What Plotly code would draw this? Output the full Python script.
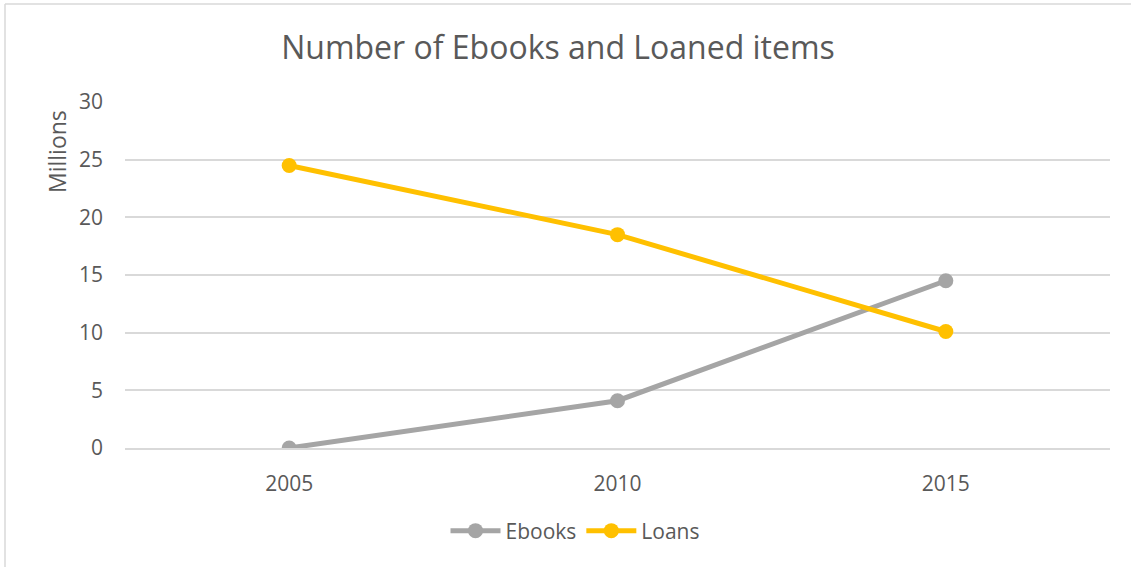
import plotly.graph_objects as go

years = ["2005", "2010", "2015"]
ebooks = [0, 4.1, 14.5]
loans = [24.5, 18.5, 10.1]
yticks = [0, 5, 10, 15, 20, 25, 30]

W, H = 1131, 567
L, R, T, B = 125, 21, 102, 119
pw, ph = W - L - R, H - T - B

def px(x):
    return (x - L) / pw

def py(y):
    return (H - B - y) / ph

fig = go.Figure()
fig.add_trace(go.Scatter(x=years, y=ebooks, name="Ebooks", mode="lines+markers",
                         line=dict(color="#A5A5A5", width=5),
                         marker=dict(color="#A5A5A5", size=15)))
fig.add_trace(go.Scatter(x=years, y=loans, name="Loans", mode="lines+markers",
                         line=dict(color="#FFC000", width=5),
                         marker=dict(color="#FFC000", size=15)))

font_family = "Open Sans, sans-serif"
fig.update_layout(
    width=W, height=H,
    margin=dict(l=L, r=R, t=T, b=B),
    paper_bgcolor="white", plot_bgcolor="white",
    font=dict(family=font_family, color="#595959", size=21),
    title=dict(text="Number of Ebooks and Loaned items", x=px(558), xref="paper",
               xanchor="center", y=1 - 48 / H, yanchor="middle",
               font=dict(size=32, color="#595959", family=font_family)),
    xaxis=dict(type="category", range=[-0.5, 2.5], showgrid=False, zeroline=False,
               showline=True, linecolor="#D9D9D9", linewidth=2,
               ticks="", ticklabelstandoff=16, tickfont=dict(size=21)),
    yaxis=dict(range=[0, 30], tickvals=yticks, showgrid=True, gridcolor="#D9D9D9",
               gridwidth=2, zeroline=False, showline=False, ticks="",
               ticklabelstandoff=21, tickfont=dict(size=21)),
    legend=dict(orientation="h", x=px(575), xanchor="center", y=py(531),
                yanchor="middle", font=dict(size=21), itemwidth=50,
                bgcolor="rgba(0,0,0,0)"),
    showlegend=True,
)

fig.add_annotation(text="Millions", xref="paper", yref="paper", x=px(57), y=py(152),
                   textangle=-90, showarrow=False, font=dict(size=23, color="#595959"),
                   xanchor="center", yanchor="middle")

fig.add_shape(type="line", xref="paper", yref="paper",
              x0=px(5), x1=px(1131), y0=py(4), y1=py(4),
              line=dict(color="#D9D9D9", width=1.5), layer="below")
fig.add_shape(type="line", xref="paper", yref="paper",
              x0=px(5), x1=px(5), y0=py(4), y1=py(567),
              line=dict(color="#D9D9D9", width=1.5), layer="below")

fig.write_html("out.html")
